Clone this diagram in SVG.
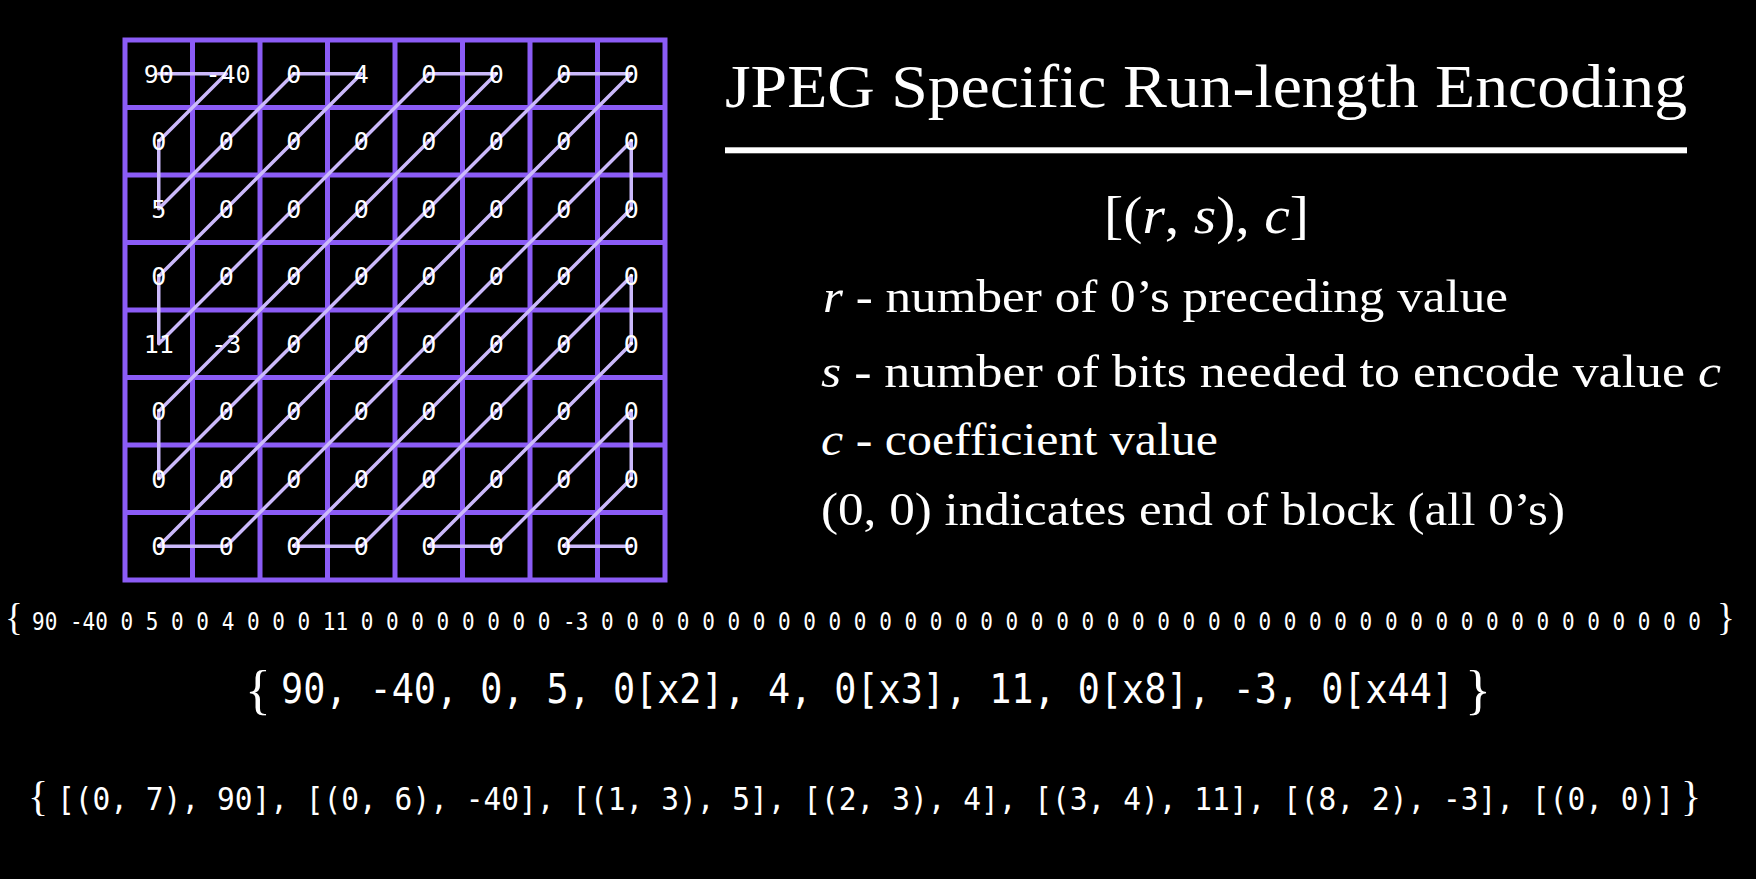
<svg xmlns="http://www.w3.org/2000/svg" width="1756" height="879" viewBox="0 0 1756 879">
<style>
.grid{fill:none;stroke:#8b5cf6;stroke-width:5}
.zz{fill:none;stroke:#cbb9fb;stroke-width:3.5;stroke-linejoin:round;stroke-linecap:round}
.cell{font-family:"DejaVu Sans Mono","Liberation Mono",monospace;font-size:25px;fill:#ffffff;text-anchor:middle}
.serif{font-family:"Liberation Serif","DejaVu Serif",serif;fill:#ffffff}
.it{font-style:italic}
.mono{font-family:"DejaVu Sans Mono","Liberation Mono",monospace;fill:#ffffff}
.brace{font-family:"Liberation Serif","DejaVu Serif",serif;fill:#ffffff;text-anchor:middle}
</style>
<rect width="1756" height="879" fill="#000000"/>
<g id="grid">
<rect class="grid" x="125" y="40" width="540" height="540"/>
<path class="grid" d="M192.5 40V580M260 40V580M327.5 40V580M395 40V580M462.5 40V580M530 40V580M597.5 40V580M125 107.5H665M125 175H665M125 242.5H665M125 310H665M125 377.5H665M125 445H665M125 512.5H665"/>
</g>
<g id="connectors">
<polyline class="zz" points="158.75,73.75 226.25,73.75 158.75,141.25 158.75,208.75 293.75,73.75 361.25,73.75 158.75,276.25 158.75,343.75 428.75,73.75 496.25,73.75 158.75,411.25 158.75,478.75 563.75,73.75 631.25,73.75 158.75,546.25 226.25,546.25 631.25,141.25 631.25,208.75 293.75,546.25 361.25,546.25 631.25,276.25 631.25,343.75 428.75,546.25 496.25,546.25 631.25,411.25 631.25,478.75 563.75,546.25 631.25,546.25"/>
</g>
<g id="cells">
<g id="row0"><text class="cell" x="158.75" y="82.75">90</text><text class="cell" x="228" y="82.75">-40</text><text class="cell" x="293.75" y="82.75">0</text><text class="cell" x="361.25" y="82.75">4</text><text class="cell" x="428.75" y="82.75">0</text><text class="cell" x="496.25" y="82.75">0</text><text class="cell" x="563.75" y="82.75">0</text><text class="cell" x="631.25" y="82.75">0</text></g>
<g id="row1"><text class="cell" x="158.75" y="150.25">0</text><text class="cell" x="226.25" y="150.25">0</text><text class="cell" x="293.75" y="150.25">0</text><text class="cell" x="361.25" y="150.25">0</text><text class="cell" x="428.75" y="150.25">0</text><text class="cell" x="496.25" y="150.25">0</text><text class="cell" x="563.75" y="150.25">0</text><text class="cell" x="631.25" y="150.25">0</text></g>
<g id="row2"><text class="cell" x="158.75" y="217.75">5</text><text class="cell" x="226.25" y="217.75">0</text><text class="cell" x="293.75" y="217.75">0</text><text class="cell" x="361.25" y="217.75">0</text><text class="cell" x="428.75" y="217.75">0</text><text class="cell" x="496.25" y="217.75">0</text><text class="cell" x="563.75" y="217.75">0</text><text class="cell" x="631.25" y="217.75">0</text></g>
<g id="row3"><text class="cell" x="158.75" y="285.25">0</text><text class="cell" x="226.25" y="285.25">0</text><text class="cell" x="293.75" y="285.25">0</text><text class="cell" x="361.25" y="285.25">0</text><text class="cell" x="428.75" y="285.25">0</text><text class="cell" x="496.25" y="285.25">0</text><text class="cell" x="563.75" y="285.25">0</text><text class="cell" x="631.25" y="285.25">0</text></g>
<g id="row4"><text class="cell" x="158.75" y="352.75">11</text><text class="cell" x="226.25" y="352.75">-3</text><text class="cell" x="293.75" y="352.75">0</text><text class="cell" x="361.25" y="352.75">0</text><text class="cell" x="428.75" y="352.75">0</text><text class="cell" x="496.25" y="352.75">0</text><text class="cell" x="563.75" y="352.75">0</text><text class="cell" x="631.25" y="352.75">0</text></g>
<g id="row5"><text class="cell" x="158.75" y="420.25">0</text><text class="cell" x="226.25" y="420.25">0</text><text class="cell" x="293.75" y="420.25">0</text><text class="cell" x="361.25" y="420.25">0</text><text class="cell" x="428.75" y="420.25">0</text><text class="cell" x="496.25" y="420.25">0</text><text class="cell" x="563.75" y="420.25">0</text><text class="cell" x="631.25" y="420.25">0</text></g>
<g id="row6"><text class="cell" x="158.75" y="487.75">0</text><text class="cell" x="226.25" y="487.75">0</text><text class="cell" x="293.75" y="487.75">0</text><text class="cell" x="361.25" y="487.75">0</text><text class="cell" x="428.75" y="487.75">0</text><text class="cell" x="496.25" y="487.75">0</text><text class="cell" x="563.75" y="487.75">0</text><text class="cell" x="631.25" y="487.75">0</text></g>
<g id="row7"><text class="cell" x="158.75" y="555.25">0</text><text class="cell" x="226.25" y="555.25">0</text><text class="cell" x="293.75" y="555.25">0</text><text class="cell" x="361.25" y="555.25">0</text><text class="cell" x="428.75" y="555.25">0</text><text class="cell" x="496.25" y="555.25">0</text><text class="cell" x="563.75" y="555.25">0</text><text class="cell" x="631.25" y="555.25">0</text></g>
</g>
<g id="title">
<text class="serif" x="725" y="107" font-size="62" textLength="962" lengthAdjust="spacingAndGlyphs">JPEG Specific Run-length Encoding</text>
<rect x="725" y="147.3" width="962" height="6" fill="#ffffff"/>
</g>
<g id="formula">
<text class="serif" x="1104" y="233" font-size="52" textLength="205" lengthAdjust="spacingAndGlyphs">[(<tspan class="it">r</tspan>, <tspan class="it">s</tspan>), <tspan class="it">c</tspan>]</text>
</g>
<g id="legend">
<text class="serif" x="823" y="312" font-size="46" textLength="685" lengthAdjust="spacingAndGlyphs"><tspan class="it">r</tspan> - number of 0’s preceding value</text>
<text class="serif" x="821" y="387" font-size="46" textLength="900" lengthAdjust="spacingAndGlyphs"><tspan class="it">s</tspan> - number of bits needed to encode value <tspan class="it">c</tspan></text>
<text class="serif" x="821" y="455" font-size="46" textLength="397" lengthAdjust="spacingAndGlyphs"><tspan class="it">c</tspan> - coefficient value</text>
<text class="serif" x="821" y="525" font-size="46" textLength="744" lengthAdjust="spacingAndGlyphs">(0, 0) indicates end of block (all 0’s)</text>
</g>
<g id="sequence">
<text class="brace" x="14" y="630" font-size="37">{</text>
<text class="mono" transform="translate(32 629.5) scale(1 1.156)" x="0" y="0" font-size="21" textLength="1669" lengthAdjust="spacingAndGlyphs">90 -40 0 5 0 0 4 0 0 0 11 0 0 0 0 0 0 0 0 -3 0 0 0 0 0 0 0 0 0 0 0 0 0 0 0 0 0 0 0 0 0 0 0 0 0 0 0 0 0 0 0 0 0 0 0 0 0 0 0 0 0 0 0 0</text>
<text class="brace" x="1726" y="630" font-size="37">}</text>
</g>
<g id="compressed">
<text class="brace" x="258" y="708" font-size="54">{</text>
<text class="mono" transform="translate(281 703) scale(1 1.12)" x="0" y="0" font-size="36.75" textLength="1173" lengthAdjust="spacingAndGlyphs">90, -40, 0, 5, 0[x2], 4, 0[x3], 11, 0[x8], -3, 0[x44]</text>
<text class="brace" x="1478" y="708" font-size="54">}</text>
</g>
<g id="encoded">
<text class="brace" x="38" y="810" font-size="42">{</text>
<text class="mono" transform="translate(57 810) scale(1 1.083)" x="0" y="0" font-size="29.5" textLength="1617" lengthAdjust="spacingAndGlyphs">[(0, 7), 90], [(0, 6), -40], [(1, 3), 5], [(2, 3), 4], [(3, 4), 11], [(8, 2), -3], [(0, 0)]</text>
<text class="brace" x="1691" y="810" font-size="42">}</text>
</g>
</svg>
